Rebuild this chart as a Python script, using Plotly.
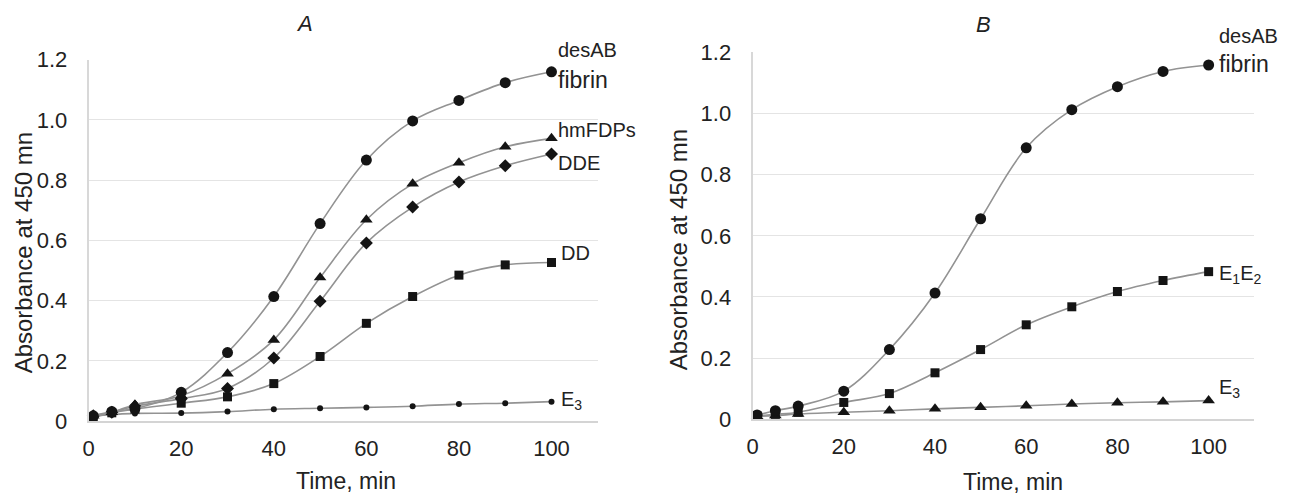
import plotly.graph_objects as go

W, H = 1298, 495

# ---------------- data ----------------
time = [1, 5, 10, 20, 30, 40, 50, 60, 70, 80, 90, 100]

a_fibrin = [0.018, 0.032, 0.042, 0.096, 0.228, 0.414, 0.656, 0.867, 0.997, 1.065, 1.124, 1.160]
a_hmfdp = [0.018, 0.030, 0.055, 0.085, 0.158, 0.270, 0.477, 0.669, 0.788, 0.858, 0.911, 0.939]
a_dde = [0.018, 0.030, 0.050, 0.075, 0.109, 0.210, 0.398, 0.592, 0.711, 0.794, 0.848, 0.887]
a_dd = [0.012, 0.028, 0.040, 0.060, 0.081, 0.125, 0.215, 0.325, 0.414, 0.485, 0.519, 0.527]
a_e3 = [0.018, 0.022, 0.026, 0.027, 0.032, 0.040, 0.043, 0.046, 0.050, 0.057, 0.060, 0.065]

b_fibrin = [0.014, 0.028, 0.043, 0.092, 0.228, 0.413, 0.656, 0.888, 1.013, 1.088, 1.138, 1.159]
b_e1e2 = [0.011, 0.016, 0.023, 0.055, 0.084, 0.152, 0.228, 0.309, 0.368, 0.418, 0.454, 0.483]
b_e3 = [0.010, 0.012, 0.017, 0.023, 0.028, 0.034, 0.039, 0.044, 0.050, 0.054, 0.057, 0.061]

x_ticks = [0, 20, 40, 60, 80, 100]
y_ticks = [0, 0.2, 0.4, 0.6, 0.8, 1.0, 1.2]
y_ticktext = ["0", "0.2", "0.4", "0.6", "0.8", "1.0", "1.2"]

# ---------------- styling ----------------
FONT = "Liberation Sans, Arial, sans-serif"
TXT = "#222222"
LINE = "#939393"
MK = "#141414"


# target pixel -> paper fraction (calibrated against the rendered page)
def px(x):
    return (x - 12) / W


def py(y):
    return 1 - ((y - 19) / 0.956) / H


fig = go.Figure()


def add(x, y, xa, ya, symbol, size):
    fig.add_trace(go.Scatter(
        x=x, y=y, xaxis=xa, yaxis=ya, mode="lines+markers",
        line=dict(color=LINE, width=1.6, shape="spline", smoothing=1.0),
        marker=dict(symbol=symbol, size=size, color=MK, line=dict(width=0)),
        cliponaxis=False, showlegend=False, hoverinfo="x+y"))


add(time, a_e3, "x", "y", "circle", 6)
add(time, a_dd, "x", "y", "square", 9)
add(time, a_dde, "x", "y", "diamond", 10)
add(time, a_hmfdp, "x", "y", "triangle-up", 11)
add(time, a_fibrin, "x", "y", "circle", 11)

add(time, b_e3, "x2", "y2", "triangle-up", 11)
add(time, b_e1e2, "x2", "y2", "square", 9)
add(time, b_fibrin, "x2", "y2", "circle", 11)

xcommon = dict(range=[0, 110], tickvals=x_ticks, showgrid=False, zeroline=False,
               showline=True, linecolor="#d4d4d4", linewidth=2,
               ticks="", ticklabelstandoff=6,
               tickfont=dict(family=FONT, size=22, color=TXT))
ycommon = dict(range=[0, 1.2], tickvals=y_ticks, ticktext=y_ticktext,
               showgrid=True, gridcolor="#e4e4e4", gridwidth=1.3, zeroline=False,
               showline=True, linecolor="#d8d8d8", linewidth=2,
               ticks="", ticklabelstandoff=15,
               tickfont=dict(family=FONT, size=22, color=TXT))

fig.update_layout(
    width=W, height=H, margin=dict(l=0, r=0, t=0, b=0),
    paper_bgcolor="white", plot_bgcolor="white",
    font=dict(family=FONT, color=TXT),
    xaxis=dict(domain=[px(87), px(598.5)], anchor="y", **xcommon),
    yaxis=dict(domain=[py(423), py(59)], anchor="x", **ycommon),
    xaxis2=dict(domain=[px(754), px(1258)], anchor="y2", **xcommon),
    yaxis2=dict(domain=[py(421), py(51.7)], anchor="x2", **ycommon),
)

ann = []


def label(text, x, y, size=20, xanchor="left", **kw):
    ann.append(dict(text=text, x=px(x), y=py(y), xref="paper", yref="paper",
                    xanchor=xanchor, yanchor="middle", showarrow=False,
                    font=dict(family=FONT, size=size, color=TXT), **kw))


# panel titles
label("<i>A</i>", 304, 23, size=22, xanchor="center")
label("<i>B</i>", 986, 24, size=22, xanchor="center")

# axis titles
label("Time, min", 346, 483, size=23, xanchor="center")
label("Time, min", 1016, 484, size=23, xanchor="center")
label("Absorbance at 450 mn", 21, 253, size=24, xanchor="center", textangle=-90)
label("Absorbance at 450 mn", 680, 250, size=24, xanchor="center", textangle=-90)

# curve labels, panel A
label("desAB", 557, 49, size=20)
label("fibrin", 557, 79, size=23)
label("hmFDPs", 557, 130, size=20)
label("DDE", 557, 163, size=20)
label("DD", 560, 254, size=20)
label("E<sub>3</sub>", 560, 402, size=20)

# curve labels, panel B
label("desAB", 1221, 35, size=20)
label("fibrin", 1221, 63, size=23)
label("E<sub>1</sub>E<sub>2</sub>", 1221, 275, size=20)
label("E<sub>3</sub>", 1221, 390, size=20)

fig.update_layout(annotations=ann)

fig.write_html("out.html")
